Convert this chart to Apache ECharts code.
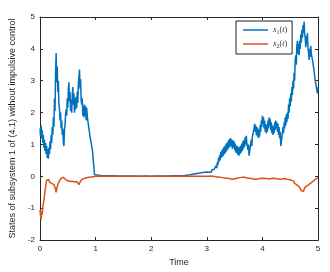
<!DOCTYPE html>
<html><head><meta charset="utf-8">
<script src="https://cdn.jsdelivr.net/npm/echarts@6/dist/echarts.min.js"></script>
<style>html,body{margin:0;padding:0;background:#fff}#c{width:330px;height:272px}</style>
</head><body><div id="c"></div>
<script>
var xTicks=[0,1,2,3,4,5];
var yTicks=[-2,-1,0,1,2,3,4,5];
var seriesNames=['x1','x2'];
var x1Data=[
[0.00,1.50],[0.01,1.25],[0.02,1.60],[0.03,1.20],[0.04,1.45],[0.05,1.05],[0.06,1.30],[0.07,0.90],[0.08,1.15],[0.09,0.80],
[0.10,1.05],[0.11,0.70],[0.12,0.95],[0.13,0.58],[0.14,0.85],[0.15,0.55],[0.16,0.90],[0.17,0.70],[0.18,1.10],[0.19,0.85],
[0.20,1.30],[0.21,1.05],[0.22,1.55],[0.23,1.30],[0.24,1.85],[0.25,1.55],[0.26,2.45],[0.27,2.05],[0.28,3.25],[0.29,3.87],
[0.30,2.95],[0.31,3.45],[0.32,2.65],[0.33,3.00],[0.34,2.25],[0.35,2.15],[0.36,1.75],[0.37,2.00],[0.38,1.50],[0.39,1.75],
[0.40,1.30],[0.41,1.50],[0.42,1.05],[0.43,0.95],[0.44,1.45],[0.45,1.60],[0.46,1.95],[0.47,2.10],[0.48,1.90],[0.49,2.45],
[0.50,2.15],[0.51,2.75],[0.52,2.95],[0.53,2.35],[0.54,2.65],[0.55,2.05],[0.56,2.40],[0.57,2.00],[0.58,2.55],[0.59,2.80],
[0.60,2.25],[0.61,2.60],[0.62,2.00],[0.63,2.45],[0.64,2.10],[0.65,2.50],[0.66,2.15],[0.67,2.65],[0.68,2.30],[0.69,2.90],
[0.70,3.10],[0.71,3.35],[0.72,2.75],[0.73,3.05],[0.74,2.40],[0.75,2.25],[0.76,2.45],[0.77,1.90],[0.78,2.20],[0.79,1.85],
[0.80,2.25],[0.81,1.90],[0.82,2.20],[0.83,1.75],[0.84,2.15],[0.85,1.90],[0.86,1.75],[0.87,1.80],[0.88,1.50],[0.89,1.55],
[0.90,1.25],[0.91,1.30],[0.92,1.05],[0.93,1.05],[0.94,0.85],[0.95,0.70],[0.96,0.45],[0.97,0.30],[0.98,0.05],[0.99,0.03],
[1.00,0.02],[1.10,0.03],[1.20,0.02],[1.30,0.02],[1.40,0.01],[1.50,0.01],[1.60,0.01],[1.70,0.01],[1.80,0.00],[1.90,0.01],
[2.00,0.00],[2.10,0.01],[2.20,0.01],[2.30,0.01],[2.40,0.02],[2.50,0.02],[2.60,0.03],[2.70,0.05],[2.80,0.08],[2.90,0.11],
[3.00,0.14],[3.01,0.18],[3.02,0.12],[3.03,0.17],[3.04,0.13],[3.05,0.19],[3.06,0.14],[3.07,0.18],[3.08,0.13],[3.09,0.20],
[3.10,0.15],[3.11,0.21],[3.12,0.16],[3.13,0.22],[3.14,0.18],[3.15,0.26],[3.16,0.22],[3.17,0.34],[3.18,0.26],[3.19,0.45],
[3.20,0.35],[3.21,0.58],[3.22,0.45],[3.23,0.66],[3.24,0.51],[3.25,0.76],[3.26,0.58],[3.27,0.82],[3.28,0.62],[3.29,0.87],
[3.30,0.65],[3.31,0.93],[3.32,0.70],[3.33,0.97],[3.34,0.75],[3.35,1.03],[3.36,0.80],[3.37,1.07],[3.38,0.85],[3.39,1.13],
[3.40,0.90],[3.41,1.17],[3.42,0.95],[3.43,1.20],[3.44,0.93],[3.45,1.15],[3.46,0.87],[3.47,1.13],[3.48,0.90],[3.49,1.10],
[3.50,0.83],[3.51,1.03],[3.52,0.75],[3.53,0.97],[3.54,0.73],[3.55,0.95],[3.56,0.67],[3.57,0.90],[3.58,0.65],[3.59,0.93],
[3.60,0.70],[3.61,0.97],[3.62,0.75],[3.63,1.03],[3.64,0.80],[3.65,1.10],[3.66,0.87],[3.67,1.15],[3.68,0.93],[3.69,1.23],
[3.70,1.00],[3.71,1.27],[3.72,1.05],[3.73,1.05],[3.74,0.83],[3.75,1.00],[3.76,0.65],[3.77,0.62],[3.78,0.90],[3.79,0.90],
[3.80,1.15],[3.81,0.95],[3.82,1.25],[3.83,1.30],[3.84,1.30],[3.85,1.50],[3.86,1.65],[3.87,1.40],[3.88,1.60],[3.89,1.30],
[3.90,1.55],[3.91,1.25],[3.92,1.50],[3.93,1.20],[3.94,1.45],[3.95,1.25],[3.96,1.60],[3.97,1.40],[3.98,1.75],[3.99,1.55],
[4.00,1.90],[4.01,1.65],[4.02,1.85],[4.03,1.50],[4.04,1.75],[4.05,1.40],[4.06,1.65],[4.07,1.35],[4.08,1.60],[4.09,1.40],
[4.10,1.75],[4.11,1.50],[4.12,1.85],[4.13,1.60],[4.14,1.80],[4.15,1.45],[4.16,1.70],[4.17,1.35],[4.18,1.60],[4.19,1.30],
[4.20,1.55],[4.21,1.35],[4.22,1.70],[4.23,1.45],[4.24,1.75],[4.25,1.50],[4.26,1.70],[4.27,1.40],[4.28,1.65],[4.29,1.30],
[4.30,1.55],[4.31,1.20],[4.32,1.40],[4.33,0.95],[4.34,0.90],[4.35,1.20],[4.36,1.25],[4.37,1.55],[4.38,1.35],[4.39,1.70],
[4.40,1.50],[4.41,1.85],[4.42,1.60],[4.43,1.95],[4.44,1.70],[4.45,2.00],[4.46,1.80],[4.47,2.25],[4.48,2.00],[4.49,2.45],
[4.50,2.20],[4.51,2.60],[4.52,2.35],[4.53,2.80],[4.54,2.55],[4.55,3.00],[4.56,2.75],[4.57,3.25],[4.58,3.00],[4.59,3.65],
[4.60,3.80],[4.61,3.50],[4.62,4.10],[4.63,4.25],[4.64,3.85],[4.65,4.15],[4.66,3.80],[4.67,4.25],[4.68,4.00],[4.69,4.45],
[4.70,4.20],[4.71,4.60],[4.72,4.35],[4.73,4.75],[4.74,4.50],[4.75,4.86],[4.76,4.45],[4.77,4.35],[4.78,4.05],[4.79,4.40],
[4.80,4.15],[4.81,4.50],[4.82,4.00],[4.83,3.90],[4.84,3.65],[4.85,4.00],[4.86,3.75],[4.87,4.10],[4.88,3.85],[4.89,3.75],
[4.90,3.75],[4.91,3.55],[4.92,3.55],[4.93,3.30],[4.94,3.30],[4.95,3.00],[4.96,3.05],[4.97,2.80],[4.98,2.85],[4.99,2.60],
[5.00,2.80]
];
var x2Data=[
[0.00,-1.05],[0.01,-1.25],[0.02,-1.35],[0.03,-1.10],[0.04,-1.20],[0.05,-0.95],[0.06,-1.00],[0.07,-0.75],[0.08,-0.60],[0.09,-0.45],
[0.10,-0.35],[0.11,-0.20],[0.12,-0.12],[0.13,-0.18],[0.14,-0.08],[0.15,-0.12],[0.16,-0.10],[0.17,-0.18],[0.18,-0.14],[0.19,-0.20],
[0.20,-0.16],[0.21,-0.22],[0.22,-0.18],[0.23,-0.24],[0.24,-0.20],[0.25,-0.26],[0.26,-0.28],[0.27,-0.35],[0.28,-0.42],[0.29,-0.50],
[0.30,-0.40],[0.31,-0.32],[0.32,-0.26],[0.33,-0.22],[0.34,-0.18],[0.35,-0.14],[0.36,-0.12],[0.37,-0.08],[0.38,-0.06],[0.39,-0.10],
[0.40,-0.04],[0.41,-0.06],[0.42,-0.03],[0.43,-0.05],[0.44,-0.08],[0.45,-0.06],[0.46,-0.10],[0.47,-0.08],[0.48,-0.12],[0.49,-0.10],
[0.50,-0.14],[0.51,-0.11],[0.52,-0.15],[0.53,-0.12],[0.54,-0.16],[0.55,-0.13],[0.56,-0.17],[0.57,-0.12],[0.58,-0.15],[0.59,-0.11],
[0.60,-0.16],[0.61,-0.13],[0.62,-0.18],[0.63,-0.14],[0.64,-0.17],[0.65,-0.13],[0.66,-0.16],[0.67,-0.14],[0.68,-0.18],[0.69,-0.22],
[0.70,-0.26],[0.71,-0.22],[0.72,-0.18],[0.73,-0.14],[0.74,-0.12],[0.75,-0.10],[0.76,-0.12],[0.77,-0.08],[0.78,-0.10],[0.79,-0.07],
[0.80,-0.08],[0.81,-0.06],[0.82,-0.07],[0.83,-0.05],[0.84,-0.06],[0.85,-0.04],[0.86,-0.05],[0.87,-0.03],[0.88,-0.04],[0.89,-0.03],
[0.90,-0.03],[0.92,-0.02],[0.94,-0.02],[0.96,-0.01],[0.98,-0.01],[1.00,0.00],[1.20,0.00],[1.40,0.00],[1.60,0.00],[1.80,0.00],
[2.00,0.00],[2.20,0.00],[2.40,0.00],[2.60,0.00],[2.80,0.00],
[3.00,0.00],[3.02,-0.02],[3.04,0.00],[3.06,-0.01],[3.08,0.01],[3.10,-0.02],[3.12,0.00],[3.14,-0.03],[3.16,-0.01],[3.18,-0.04],
[3.20,-0.02],[3.22,-0.05],[3.24,-0.03],[3.26,-0.06],[3.28,-0.04],[3.30,-0.07],[3.32,-0.05],[3.34,-0.08],[3.36,-0.06],[3.38,-0.10],
[3.40,-0.07],[3.42,-0.11],[3.44,-0.08],[3.46,-0.12],[3.48,-0.09],[3.50,-0.11],[3.52,-0.07],[3.54,-0.09],[3.56,-0.05],[3.58,-0.08],
[3.60,-0.04],[3.62,-0.06],[3.64,-0.03],[3.66,-0.05],[3.68,-0.03],[3.70,-0.07],[3.72,-0.05],[3.74,-0.09],[3.76,-0.06],[3.78,-0.10],
[3.80,-0.07],[3.82,-0.11],[3.84,-0.08],[3.86,-0.12],[3.88,-0.09],[3.90,-0.11],[3.92,-0.08],[3.94,-0.10],[3.96,-0.07],[3.98,-0.09],
[4.00,-0.06],[4.02,-0.09],[4.04,-0.07],[4.06,-0.10],[4.08,-0.07],[4.10,-0.11],[4.12,-0.08],[4.14,-0.10],[4.16,-0.07],[4.18,-0.09],
[4.20,-0.06],[4.22,-0.09],[4.24,-0.07],[4.26,-0.11],[4.28,-0.08],[4.30,-0.12],[4.32,-0.09],[4.34,-0.11],[4.36,-0.08],[4.38,-0.10],
[4.40,-0.07],[4.42,-0.11],[4.44,-0.09],[4.46,-0.13],[4.48,-0.10],[4.50,-0.15],[4.52,-0.12],[4.54,-0.18],[4.56,-0.15],[4.58,-0.22],
[4.60,-0.20],[4.62,-0.27],[4.64,-0.24],[4.66,-0.32],[4.68,-0.38],[4.70,-0.45],[4.72,-0.40],[4.74,-0.47],[4.76,-0.36],[4.78,-0.40],
[4.80,-0.30],[4.82,-0.34],[4.84,-0.25],[4.86,-0.28],[4.88,-0.20],[4.90,-0.22],[4.92,-0.14],[4.94,-0.16],[4.96,-0.08],[4.98,-0.10],
[5.00,-0.05]
];
var chart=echarts.init(document.getElementById('c'),null,{renderer:'canvas'});
var axisCol='#262626';
var fontF='"Liberation Sans", Arial, sans-serif';
function xa(pos,show){return {type:'value',position:pos,min:xTicks[0],max:xTicks[xTicks.length-1],interval:1,
  axisLine:{show:true,onZero:false,lineStyle:{color:axisCol,width:1}},
  axisTick:{show:true,inside:true,length:3,lineStyle:{color:axisCol}},
  axisLabel:{show:show,color:axisCol,fontSize:8,fontFamily:fontF,margin:5},
  splitLine:{show:false},
  name:show?'Time':'',nameLocation:'middle',nameGap:15,nameTextStyle:{color:axisCol,fontSize:9,fontFamily:fontF}};}
function ya(pos,show){return {type:'value',position:pos,min:yTicks[0],max:yTicks[yTicks.length-1],interval:1,
  axisLine:{show:true,onZero:false,lineStyle:{color:axisCol,width:1}},
  axisTick:{show:true,inside:true,length:3,lineStyle:{color:axisCol}},
  axisLabel:{show:show,color:axisCol,fontSize:8,fontFamily:fontF,margin:5},
  splitLine:{show:false},
  name:show?'States of subsystem 1 of (4.1) without impulsive control':'',nameLocation:'middle',nameGap:20,
  nameTextStyle:{color:axisCol,fontSize:9,fontFamily:fontF}};}
var rich={i:{fontFamily:'"Liberation Serif","DejaVu Serif",serif',fontStyle:'italic',fontSize:8,color:'#333'},
  n:{fontFamily:'"Liberation Serif","DejaVu Serif",serif',fontSize:8,color:'#333'},
  s:{fontFamily:'"Liberation Serif","DejaVu Serif",serif',fontSize:6,color:'#333',verticalAlign:'bottom',padding:[4,0,0,0]}};
chart.setOption({
  animation:false,
  grid:{left:35,right:12,top:17,bottom:31,containLabel:false},
  xAxis:[xa('bottom',true),xa('top',false)],
  yAxis:[ya('left',true),ya('right',false)],
  legend:{orient:'vertical',left:236,top:21,icon:'rect',itemWidth:25,itemHeight:1.5,itemGap:4,
    backgroundColor:'#fff',borderColor:'#222',borderWidth:1,padding:[4,5,5,7],borderRadius:0,
    data:['x1','x2'],
    formatter:function(n){return n==='x1'?'{i|x}{s|1}{n|(}{i|t}{n|)}':'{i|x}{s|2}{n|(}{i|t}{n|)}';},
    textStyle:{rich:rich,lineHeight:10}},
  series:[
    {name:seriesNames[0],type:'line',xAxisIndex:0,yAxisIndex:0,data:x1Data,symbol:'none',lineStyle:{color:'#0072BD',width:1.5},itemStyle:{color:'#0072BD'},clip:true},
    {name:seriesNames[1],type:'line',xAxisIndex:0,yAxisIndex:0,data:x2Data,symbol:'none',lineStyle:{color:'#D95319',width:1.5},itemStyle:{color:'#D95319'},clip:true}
  ]
});
</script></body></html>
